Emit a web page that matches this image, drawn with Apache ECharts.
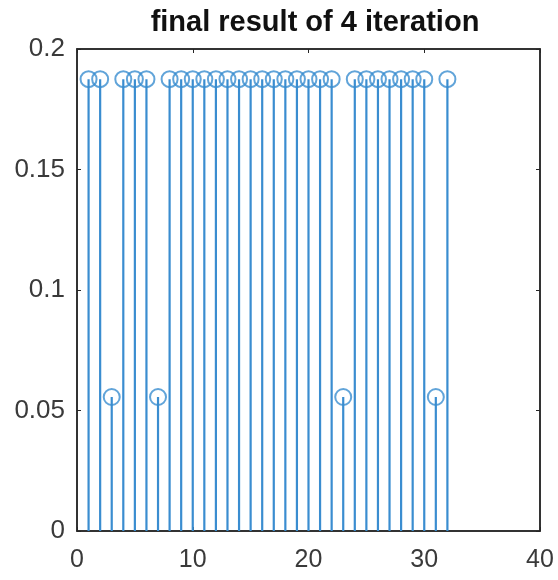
<!DOCTYPE html>
<html>
<head>
<meta charset="utf-8">
<script src="https://cdn.jsdelivr.net/npm/echarts@6/dist/echarts.min.js"></script>
<style>
  html, body { margin: 0; padding: 0; background: #fff; }
  #chart { width: 558px; height: 580px; }
</style>
</head>
<body>
<div id="chart"></div>
<script>
// stem positions and values
const xs = [1, 2, 3, 4, 5, 6, 7, 8, 9, 10, 11, 12, 13, 14, 15, 16,
            17, 18, 19, 20, 21, 22, 23, 24, 25, 26, 27, 28, 29, 30, 31, 32];
const ys = [0.1875, 0.1875, 0.0556, 0.1875, 0.1875, 0.1875, 0.0556, 0.1875,
            0.1875, 0.1875, 0.1875, 0.1875, 0.1875, 0.1875, 0.1875, 0.1875,
            0.1875, 0.1875, 0.1875, 0.1875, 0.1875, 0.1875, 0.0556, 0.1875,
            0.1875, 0.1875, 0.1875, 0.1875, 0.1875, 0.1875, 0.0556, 0.1875];
const xTicks = [0, 10, 20, 30, 40];
const yTicks = [0, 0.05, 0.1, 0.15, 0.2];

const points = xs.map((x, i) => [x, ys[i]]);
const stemColor = '#3a8dd0';
const axisColor = '#262626';
const font = 'Liberation Sans, Arial, sans-serif';

const myChart = echarts.init(document.getElementById('chart'));

const lineStyle = {color: axisColor, width: 1.5};
const tick = {show: true, inside: true, length: 4, lineStyle: {color: axisColor, width: 1}};

const xBase = {
  type: 'value',
  min: xTicks[0],
  max: xTicks[xTicks.length - 1],
  interval: 10,
  axisLine: {show: true, onZero: false, lineStyle},
  axisTick: tick,
  splitLine: {show: false}
};
const yBase = {
  type: 'value',
  min: yTicks[0],
  max: yTicks[yTicks.length - 1],
  interval: 0.05,
  axisLine: {show: true, onZero: false, lineStyle},
  axisTick: tick,
  splitLine: {show: false}
};

myChart.setOption({
  animation: false,
  title: {
    text: 'final result of 4 iteration',
    left: 310,
    textAlign: 'center',
    top: 3,
    textStyle: {fontFamily: font, fontSize: 29, fontWeight: 'bold', color: '#111'}
  },
  grid: {left: 77, right: 18, top: 49, bottom: 49, show: true,
         borderColor: axisColor, borderWidth: 1.5, backgroundColor: 'transparent'},
  xAxis: [
    {...xBase, position: 'bottom',
      axisLabel: {color: '#3a3a3a', fontSize: 25, margin: 17, fontFamily: font}},
    {...xBase, position: 'top', axisLabel: {show: false}}
  ],
  yAxis: [
    {...yBase, position: 'left',
      axisLabel: {color: '#3a3a3a', fontSize: 26, margin: 12, fontFamily: font,
        padding: [7, 0, 0, 0],
        formatter: v => String(Math.round(v * 100) / 100)}},
    {...yBase, position: 'right', axisLabel: {show: false}}
  ],
  series: [{
    type: 'bar',
    data: points,
    barWidth: 2.2,
    itemStyle: {color: stemColor},
    silent: true
  }, {
    type: 'scatter',
    data: points,
    symbol: 'circle',
    symbolSize: 16,
    itemStyle: {color: 'rgba(0,0,0,0)', borderColor: stemColor, borderWidth: 2},
    z: 3
  }, {
    type: 'line',
    xAxisIndex: 1,
    yAxisIndex: 1,
    data: [],
    silent: true
  }]
});
</script>
</body>
</html>
